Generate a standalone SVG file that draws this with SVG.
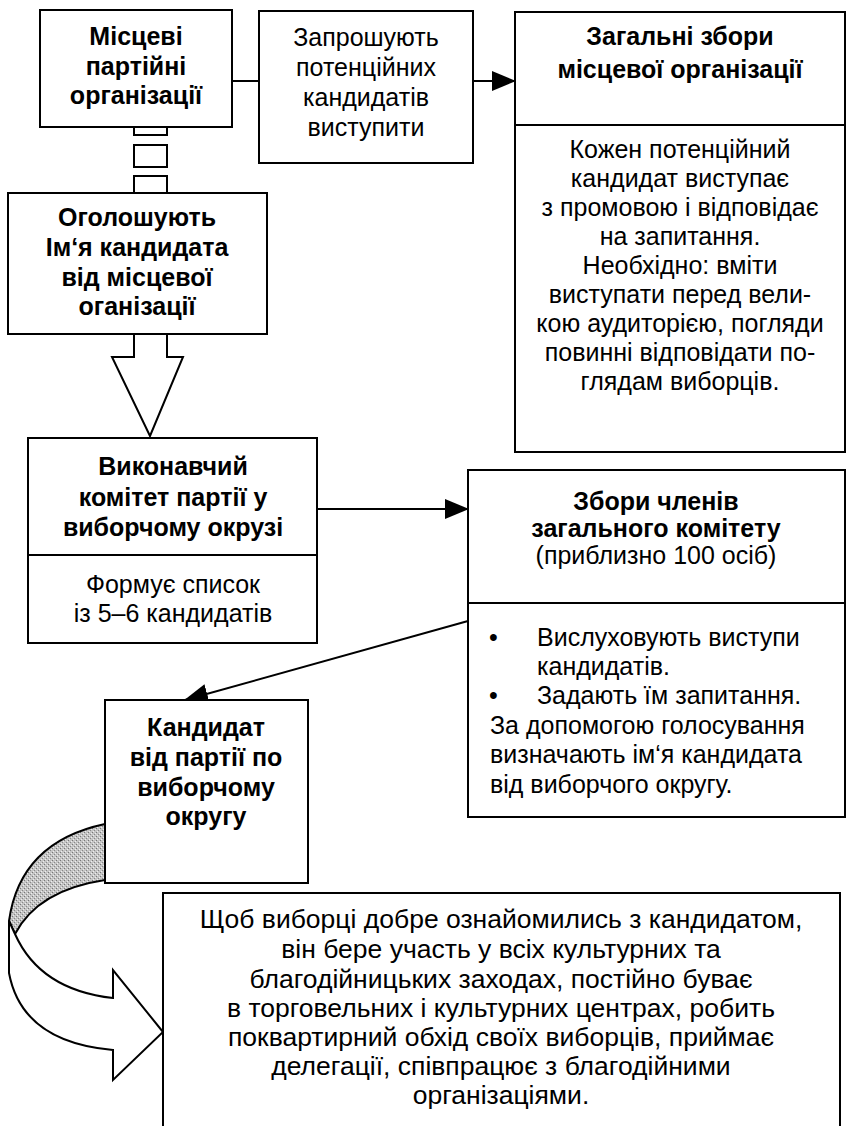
<svg xmlns="http://www.w3.org/2000/svg" width="847" height="1126" viewBox="0 0 847 1126">
<defs>
<style>
.box{fill:#fff;stroke:#000;stroke-width:2}
.ln{fill:none;stroke:#000;stroke-width:2}
.t{font-family:"Liberation Sans",Arial,sans-serif;font-size:25px;fill:#000;text-anchor:middle}
.b{font-weight:bold}
.l{text-anchor:start}
.big{font-size:26.5px}
.hollow{fill:#fff;stroke:#000;stroke-width:2;stroke-linejoin:miter}
</style>
<marker id="ah" viewBox="0 0 24 20" refX="23" refY="10" markerWidth="24" markerHeight="20" markerUnits="userSpaceOnUse" orient="auto">
<path d="M0,0 L24,10 L0,20 Z" fill="#000"/>
</marker>
<pattern id="stip" width="4" height="4" patternUnits="userSpaceOnUse">
<rect width="4" height="4" fill="#c4c4c4"/>
<rect x="0" y="0" width="1" height="1" fill="#777"/>
<rect x="2" y="2" width="1" height="1" fill="#888"/>
<rect x="3" y="1" width="1" height="1" fill="#eee"/>
<rect x="1" y="3" width="1" height="1" fill="#eee"/>
</pattern>
</defs>

<g id="connectors">
<line class="ln" x1="232" y1="81" x2="259" y2="81"/>
<line class="ln" x1="473" y1="81" x2="515" y2="81" marker-end="url(#ah)"/>
<rect class="hollow" x="134" y="127" width="33" height="8"/>
<rect class="hollow" x="134" y="145" width="33" height="22"/>
<rect class="hollow" x="134" y="176" width="33" height="17"/>
<path class="hollow" d="M134,334 L134,357 L112,357 L150,436 L183,357 L167,357 L167,334"/>
<line class="ln" x1="317" y1="509" x2="468" y2="509" marker-end="url(#ah)"/>
<line class="ln" x1="468" y1="621" x2="185" y2="700" marker-end="url(#ah)"/>
<path d="M105,824 Q20,842 9,921 L15,934 Q38,890 105,880 Z" fill="url(#stip)" stroke="#000" stroke-width="2"/>
<path class="hollow" d="M9,921 L9,973 Q22,1042 113,1050 L113,1080 L163,1032 L113,970 L113,998 Q40,990 15,934 Z"/>
</g>

<g id="n1">
<rect class="box" x="40" y="10" width="192" height="117"/>
<text class="t b" x="136" y="45">Місцеві</text>
<text class="t b" x="136" y="75">партійні</text>
<text class="t b" x="136" y="104">організації</text>
</g>

<g id="n2">
<rect class="box" x="259" y="11" width="214" height="152"/>
<text class="t" x="366" y="46">Запрошують</text>
<text class="t" x="366" y="76">потенційних</text>
<text class="t" x="366" y="106">кандидатів</text>
<text class="t" x="366" y="136">виступити</text>
</g>

<g id="n3">
<rect class="box" x="515" y="12" width="330" height="440"/>
<line class="ln" x1="515" y1="125" x2="845" y2="125"/>
<text class="t b" x="680" y="45">Загальні збори</text>
<text class="t b" x="680" y="78">місцевої організації</text>
<text class="t" x="680" y="158">Кожен потенційний</text>
<text class="t" x="680" y="187">кандидат виступає</text>
<text class="t" x="680" y="216">з промовою і відповідає</text>
<text class="t" x="680" y="245">на запитання.</text>
<text class="t" x="680" y="274">Необхідно: вміти</text>
<text class="t" x="680" y="303">виступати перед вели-</text>
<text class="t" x="680" y="332">кою аудиторією, погляди</text>
<text class="t" x="680" y="361">повинні відповідати по-</text>
<text class="t" x="680" y="390">глядам виборців.</text>
</g>

<g id="n4">
<rect class="box" x="8" y="193" width="259" height="141"/>
<text class="t b" x="137" y="226">Оголошують</text>
<text class="t b" x="137" y="256">Ім‘я кандидата</text>
<text class="t b" x="137" y="286">від місцевої</text>
<text class="t b" x="137" y="315">оганізації</text>
</g>

<g id="n5">
<rect class="box" x="28" y="438" width="289" height="205"/>
<line class="ln" x1="28" y1="555" x2="317" y2="555"/>
<text class="t b" x="173" y="475">Виконавчий</text>
<text class="t b" x="173" y="506">комітет партії у</text>
<text class="t b" x="173" y="536">виборчому окрузі</text>
<text class="t" x="173" y="593">Формує список</text>
<text class="t" x="173" y="622">із 5–6 кандидатів</text>
</g>

<g id="n6">
<rect class="box" x="468" y="470" width="377" height="347"/>
<line class="ln" x1="468" y1="603" x2="845" y2="603"/>
<text class="t b" x="656" y="510">Збори членів</text>
<text class="t b" x="656" y="537">загального комітету</text>
<text class="t" x="656" y="564">(приблизно 100 осіб)</text>
<text class="t l" x="489" y="646">•</text>
<text class="t l" x="537" y="646">Вислуховують виступи</text>
<text class="t l" x="537" y="675">кандидатів.</text>
<text class="t l" x="489" y="704">•</text>
<text class="t l" x="537" y="704">Задають їм запитання.</text>
<text class="t l" x="490" y="734">За допомогою голосування</text>
<text class="t l" x="490" y="763">визначають ім‘я кандидата</text>
<text class="t l" x="490" y="793">від виборчого округу.</text>
</g>

<g id="n7">
<rect class="box" x="105" y="700" width="203" height="183"/>
<text class="t b" x="206" y="736">Кандидат</text>
<text class="t b" x="206" y="766">від партії по</text>
<text class="t b" x="206" y="796">виборчому</text>
<text class="t b" x="206" y="825">округу</text>
</g>

<g id="n8">
<rect class="box" x="163" y="893" width="677" height="245"/>
<text class="t big" x="501" y="928">Щоб виборці добре ознайомились з кандидатом,</text>
<text class="t big" x="501" y="958">він бере участь у всіх культурних та</text>
<text class="t big" x="501" y="988">благодійницьких заходах, постійно буває</text>
<text class="t big" x="501" y="1017">в торговельних і культурних центрах, робить</text>
<text class="t big" x="501" y="1046">поквартирний обхід своїх виборців, приймає</text>
<text class="t big" x="501" y="1075">делегації, співпрацює з благодійними</text>
<text class="t big" x="501" y="1104">організаціями.</text>
</g>
</svg>
